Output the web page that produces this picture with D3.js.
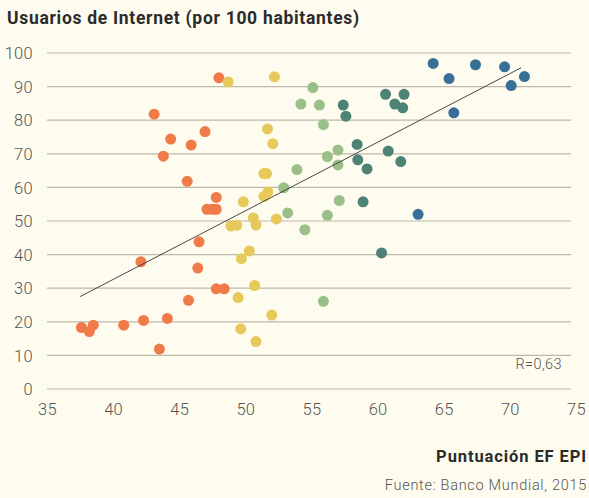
<!DOCTYPE html>
<html>
<head>
<meta charset="utf-8">
<script src="https://cdn.jsdelivr.net/npm/d3@7"></script>
<style>
  body { margin: 0; background: #fefcef; }
  svg { display: block; font-family: Roboto, "DejaVu Sans", sans-serif; }
</style>
</head>
<body>
<script>
// Usuarios de Internet vs puntuacion EF EPI, one array per colour group
var naranja = [
  [48.0, 92.6], [43.1, 81.8], [44.35, 74.4], [46.95, 76.6], [43.8, 69.3], [45.9, 72.6],
  [45.6, 61.8], [47.8, 57.0], [47.1, 53.5], [47.5, 53.5], [47.8, 53.5], [46.5, 43.8],
  [42.1, 37.9], [46.4, 36.0], [47.8, 29.8], [48.4, 29.8], [45.7, 26.4], [37.6, 18.3],
  [38.2, 17.1], [38.5, 19.0], [40.8, 19.0], [42.3, 20.4], [44.1, 21.0], [43.5, 11.9]
];
var amarillo = [
  [48.7, 91.4], [52.2, 92.9], [51.67, 77.4], [52.07, 73.0], [51.4, 64.1], [51.6, 64.1],
  [51.7, 58.6], [51.4, 57.3], [49.85, 55.7], [48.9, 48.5], [49.35, 48.7], [50.6, 50.9],
  [50.8, 48.8], [52.35, 50.6], [50.3, 41.1], [49.7, 38.8], [50.7, 30.8], [49.45, 27.2],
  [52.0, 22.0], [49.65, 17.9], [50.8, 14.1]
];
var verdeClaro = [
  [54.2, 84.8], [55.1, 89.7], [55.6, 84.5], [55.9, 78.7], [57.0, 71.1], [56.2, 69.2],
  [57.0, 66.7], [53.9, 65.3], [52.9, 59.9], [53.2, 52.4], [57.1, 56.1], [56.2, 51.7],
  [54.5, 47.4], [55.9, 26.1]
];
var verdeOscuro = [
  [57.4, 84.5], [57.6, 81.2], [60.6, 87.7], [62.0, 87.7], [61.3, 84.8], [61.9, 83.7],
  [58.45, 72.8], [58.5, 68.2], [59.2, 65.5], [60.8, 70.8], [61.75, 67.7], [58.9, 55.7],
  [60.3, 40.5]
];
var azul = [
  [64.2, 96.9], [67.4, 96.5], [69.6, 95.9], [65.4, 92.4], [71.1, 93.0], [70.1, 90.3],
  [65.76, 82.2], [63.06, 52.0]
];
var tendencia = [[37.5, 27.5], [70.85, 95.6]];
var xTicks = [35, 40, 45, 50, 55, 60, 65, 70, 75];
var yTicks = [0, 10, 20, 30, 40, 50, 60, 70, 80, 90, 100];

var w = 589;
var h = 498;

var grupos = [
  { datos: naranja, color: "#f07a48" },
  { datos: amarillo, color: "#e6c95a" },
  { datos: verdeClaro, color: "#9bbf88" },
  { datos: verdeOscuro, color: "#4e8274" },
  { datos: azul, color: "#386f98" }
];

var x = d3.scaleLinear().domain([35, 75]).range([47, 576]);
var y = d3.scaleLinear().domain([0, 100]).range([389, 53]);

var svg = d3.select("body")
            .append("svg")
            .attr("width", w)
            .attr("height", h);

svg.append("rect")
   .attr("width", w)
   .attr("height", h)
   .attr("fill", "#fefcef");

// grid lines
svg.append("g")
   .selectAll("line")
   .data(yTicks)
   .enter()
   .append("line")
   .attr("x1", 47)
   .attr("x2", 571)
   .attr("y1", function(d) { return y(d); })
   .attr("y2", function(d) { return y(d); })
   .attr("stroke", "#bdbaaa")
   .attr("stroke-width", 1.2);

// y axis labels
var yAxis = d3.axisLeft(y).tickValues(yTicks).tickSize(0).tickPadding(0);
var gy = svg.append("g").attr("transform", "translate(33,0)").call(yAxis);
gy.select(".domain").remove();
gy.selectAll("text")
  .attr("font-family", "Roboto, sans-serif")
  .attr("font-size", "16.5px")
  .attr("font-weight", 300)
  .attr("letter-spacing", "0.3px")
  .attr("fill", "#555")
  .attr("dy", "0.35em");

// x axis labels
var xAxis = d3.axisBottom(x).tickValues(xTicks).tickSize(0).tickPadding(0);
var gx = svg.append("g").attr("transform", "translate(0,403)").call(xAxis);
gx.select(".domain").remove();
gx.selectAll("text")
  .attr("font-family", "Roboto, sans-serif")
  .attr("font-size", "16.5px")
  .attr("font-weight", 300)
  .attr("letter-spacing", "0.3px")
  .attr("fill", "#555");

// points
grupos.forEach(function(g) {
  svg.append("g")
     .selectAll("circle")
     .data(g.datos)
     .enter()
     .append("circle")
     .attr("cx", function(d) { return x(d[0]); })
     .attr("cy", function(d) { return y(d[1]); })
     .attr("r", 5.5)
     .attr("fill", g.color);
});

// trend line
svg.append("path")
   .datum(tendencia)
   .attr("d", d3.line().x(function(d) { return x(d[0]); }).y(function(d) { return y(d[1]); }))
   .attr("stroke", "#333")
   .attr("stroke-width", 0.9)
   .attr("fill", "none");

svg.append("text")
   .attr("x", 562)
   .attr("y", 369)
   .attr("text-anchor", "end")
   .attr("font-size", "14.5px")
   .attr("font-weight", 300)
   .attr("letter-spacing", "0.4px")
   .attr("fill", "#555")
   .text("R=0,63");

svg.append("text")
   .attr("x", 7)
   .attr("y", 24)
   .attr("font-size", "17.5px")
   .attr("font-weight", "bold")
   .attr("letter-spacing", "0.7px")
   .attr("fill", "#2b2b2b")
   .text("Usuarios de Internet (por 100 habitantes)");

svg.append("text")
   .attr("x", 587)
   .attr("y", 462)
   .attr("text-anchor", "end")
   .attr("font-size", "16.5px")
   .attr("font-weight", "bold")
   .attr("letter-spacing", "0.9px")
   .attr("fill", "#2b2b2b")
   .text("Puntuación EF EPI");

svg.append("text")
   .attr("x", 587)
   .attr("y", 490)
   .attr("text-anchor", "end")
   .attr("font-size", "14.5px")
   .attr("font-weight", 300)
   .attr("letter-spacing", "0.7px")
   .attr("fill", "#555")
   .text("Fuente: Banco Mundial, 2015");
</script>
</body>
</html>
